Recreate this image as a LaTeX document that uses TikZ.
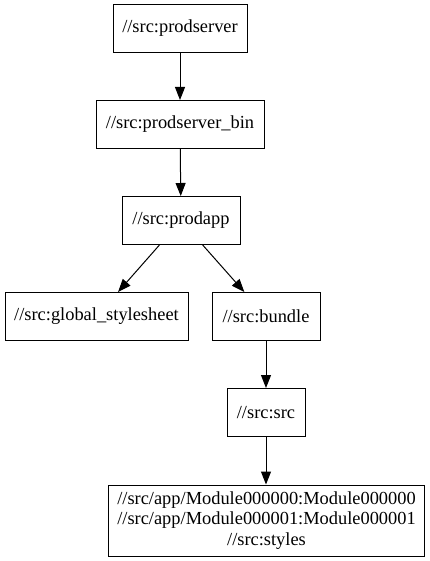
\documentclass[tikz,border=0pt]{standalone}
\usepackage{fontspec}
\setmainfont{Liberation Serif}
\usetikzlibrary{arrows.meta}
\begin{document}
\begin{tikzpicture}[x=1pt,y=-1pt,
  box/.style={draw=black,line width=1pt,rectangle,inner sep=0pt,minimum height=48pt,
    font=\fontsize{18.4}{20.5}\selectfont,align=center},
  edge/.style={draw=black,line width=1pt,-{Triangle[length=13pt,width=10pt]}}]
\useasboundingbox (0,0) rectangle (429,561);
\node[box,minimum width=134pt] (ps) at (180,28.5) {//src:prodserver};
\node[box,minimum width=168pt] (psb) at (180,124.5) {//src:prodserver\_bin};
\node[box,minimum width=118pt] (pa) at (181,220.5) {//src:prodapp};
\node[box,minimum width=183pt] (gs) at (96.5,316.5) {//src:global\_stylesheet};
\node[box,minimum width=108pt] (bu) at (266,316.5) {//src:bundle};
\node[box,minimum width=78pt] (sr) at (266,412.5) {//src:src};
\node[box,minimum width=316pt,minimum height=71pt] (mo) at (266.5,520.5) {//src/app/Module000000:Module000000\\//src/app/Module000001:Module000001\\//src:styles};
\draw[edge] (ps) -- (psb);
\draw[edge] (psb) -- (pa);
\draw[edge] (pa) -- (gs);
\draw[edge] (pa) -- (bu);
\draw[edge] (bu) -- (sr);
\draw[edge] (sr.south) -- (sr.south |- mo.north);
\end{tikzpicture}
\end{document}
